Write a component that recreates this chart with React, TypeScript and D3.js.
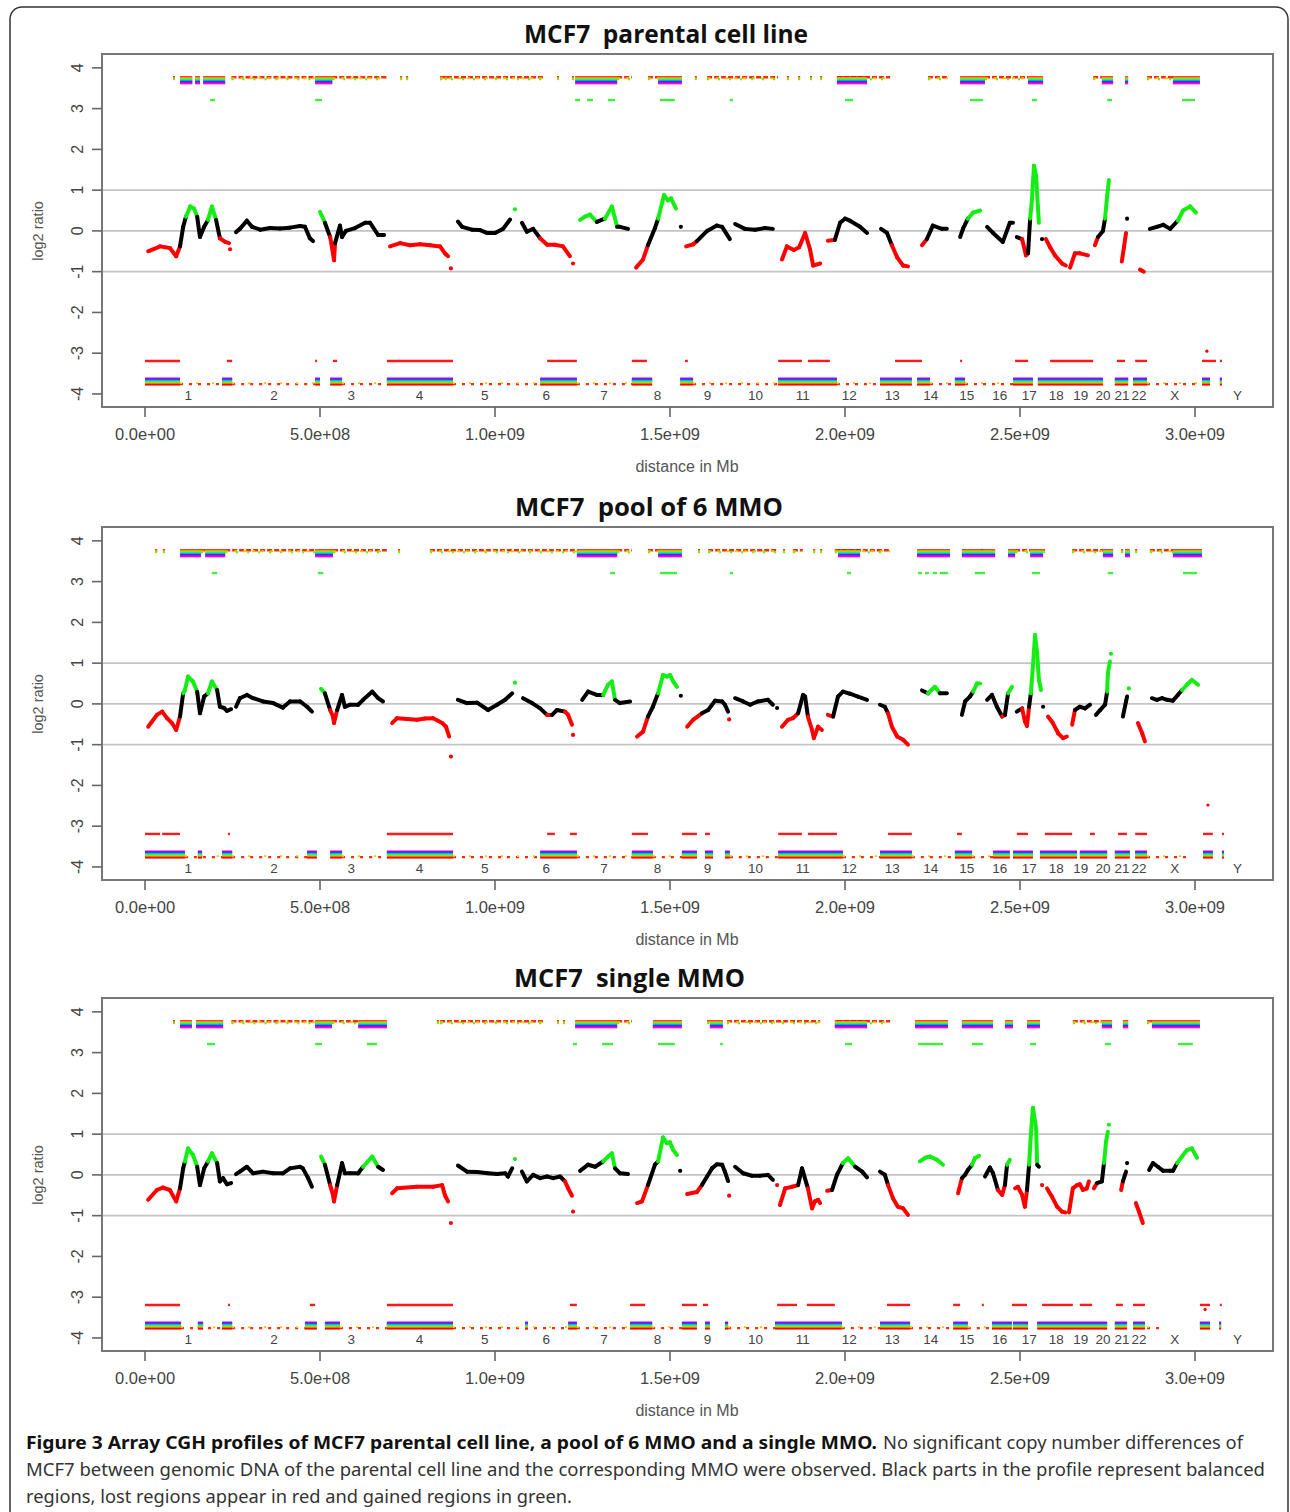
import * as d3 from "d3";

// chromosome layout (Mb)
const CHROMS = ["1","2","3","4","5","6","7","8","9","10","11","12","13","14","15","16","17","18","19","20","21","22","X","Y"];
const CHROM_LEN_MB = [247,243,199,191,181,171,159,146,140,135,134,132,114,106,100,89,79,76,64,62,47,50,155,58];
const X_TICKS = [0, 5e8, 1e9, 1.5e9, 2e9, 2.5e9, 3e9];
const Y_TICKS = [-4, -3, -2, -1, 0, 1, 2, 3, 4];
const GRID_Y = [-1, 0, 1];
const TITLES = ["MCF7  parental cell line", "MCF7  pool of 6 MMO", "MCF7  single MMO"];

type Pt = [number, number];
type Seg = [number, number];

// ---------- panel 1 : parental ----------
const P1_PROFILE: Pt[][] = [
  [[9,-0.5],[43,-0.38],[71,-0.42],[89,-0.62],[100,-0.38],[109,0.1],[117,0.35],[129,0.6],[140,0.55],[149,0.35],[157,-0.15],[169,0.1],[180,0.27],[191,0.6],[203,0.27],[214,-0.18],[229,-0.27],[240,-0.3]],
  [[243,-0.45]],
  [[260,-0.03],[271,0.05],[291,0.25],[306,0.1],[329,0.03],[357,0.07],[386,0.06],[414,0.08],[443,0.12],[457,0.1],[471,-0.18],[480,-0.25]],
  [[500,0.47],[514,0.2],[529,-0.15],[537,-0.55],[540,-0.72],[543,-0.3],[557,0.13],[563,-0.15],[574,0],[600,0.07],[629,0.2],[643,0.2],[666,-0.1],[683,-0.1]],
  [[700,-0.38],[729,-0.3],[757,-0.35],[786,-0.33],[814,-0.35],[843,-0.38],[857,-0.55],[866,-0.62]],
  [[874,-0.92]],
  [[894,0.23],[906,0.1],[934,0.03],[957,0.02],[977,-0.05],[1000,-0.05],[1023,0.05],[1043,0.28]],
  [[1057,0.53]],
  [[1077,0.2],[1091,-0.02],[1109,0.05],[1129,-0.18],[1149,-0.34],[1171,-0.34],[1194,-0.38],[1214,-0.62]],
  [[1223,-0.8]],
  [[1243,0.27],[1257,0.35],[1271,0.4],[1291,0.22],[1314,0.3],[1334,0.6],[1349,0.1],[1357,0.1],[1380,0.05]],
  [[1403,-0.9],[1423,-0.7],[1437,-0.35],[1457,0.07],[1466,0.3],[1483,0.88],[1494,0.75],[1503,0.8],[1517,0.55]],
  [[1531,0.1]],
  [[1546,-0.38],[1566,-0.33],[1577,-0.25],[1606,0],[1634,0.13],[1649,0.1],[1671,-0.2]],
  [[1686,0.17],[1714,0.05],[1743,0.03],[1771,0.07],[1794,0.05]],
  [[1820,-0.7],[1834,-0.38],[1854,-0.47],[1869,-0.4],[1886,-0.05],[1900,-0.45],[1909,-0.85],[1929,-0.8]],
  [[1951,-0.24],[1971,-0.22],[1986,0.2],[2000,0.3],[2014,0.25],[2043,0.1],[2063,-0.05]],
  [[2103,0.05],[2120,-0.05],[2134,-0.35],[2149,-0.65],[2166,-0.85],[2180,-0.87]],
  [[2220,-0.35],[2234,-0.2],[2251,0.13],[2277,0.05],[2291,0.05]],
  [[2329,-0.15],[2337,0.05],[2351,0.3],[2366,0.45],[2386,0.5]],
  [[2406,0.1],[2423,-0.05],[2451,-0.27],[2471,0.2],[2480,0.2]],
  [[2491,-0.15],[2506,-0.2],[2517,-0.6],[2523,-0.55],[2529,0.3],[2534,0.75],[2540,1.6],[2546,1.35],[2551,0.6],[2554,0.2]],
  [[2563,-0.2]],
  [[2574,-0.2],[2586,-0.4],[2600,-0.6],[2620,-0.8],[2631,-0.85]],
  [[2643,-0.9],[2657,-0.55],[2671,-0.55],[2694,-0.6]],
  [[2714,-0.35],[2723,-0.15],[2737,0],[2743,0.3],[2749,0.85],[2754,1.25]],
  [[2791,-0.75],[2797,-0.4],[2803,-0.05]],
  [[2806,0.3]],
  [[2843,-0.95],[2854,-1.0]],
  [[2871,0.05],[2891,0.1],[2909,0.15],[2929,0.05],[2951,0.25],[2966,0.5],[2986,0.6],[3003,0.45]],
];
const P1_TOP_FULL: Seg[] = [[100,135],[143,157],[166,229],[486,535],[1229,1349],[1466,1534],[1977,2063],[2329,2400],[2523,2566],[2734,2766],[2800,2809],[2937,3014]];
const P1_TOP_THIN: Seg[] = [[80,83],[247,486],[535,691],[729,732],[746,749],[857,860],[843,1137],[1177,1180],[1220,1223],[1349,1391],[1437,1466],[1571,1574],[1606,1809],[1834,1837],[1866,1869],[1900,1903],[1929,1932],[1977,2129],[2237,2294],[2400,2523],[2709,2734],[2863,2937]];
const P1_TOP_GREEN: Seg[] = [[186,200],[486,506],[1229,1243],[1263,1280],[1323,1343],[1471,1514],[1671,1680],[2000,2023],[2357,2394],[2534,2549],[2749,2763],[2963,3000]];
const P1_BOT_RED: Seg[] = [[0,100],[234,249],[486,489],[537,549],[691,880],[1149,1234],[1391,1434],[1543,1551],[1809,1877],[1894,1957],[2143,2220],[2329,2332],[2486,2523],[2586,2709],[2777,2800],[2829,2863],[3020,3060],[3071,3077]];
const P1_BOT_FULL: Seg[] = [[0,100],[220,249],[486,500],[529,563],[691,880],[1129,1234],[1391,1449],[1529,1566],[1809,1977],[2100,2191],[2206,2243],[2314,2343],[2480,2537],[2551,2737],[2771,2809],[2823,2863],[3020,3043],[3071,3077]];
const P1_BOT_THIN: Seg[] = [[100,220],[249,486],[563,691],[880,1129],[1234,1391],[1566,1809],[1977,2100],[2243,2314],[2343,2480],[2863,3010]];
const P1_OUTLIERS: Pt[] = [[3034,-2.95]];

// ---------- panel 2 : pool of 6 MMO ----------
const P2_PROFILE: Pt[][] = [
  [[9,-0.56],[34,-0.27],[49,-0.19],[63,-0.35],[77,-0.47],[89,-0.64],[100,-0.31],[109,0.26],[114,0.34],[123,0.67],[137,0.55],[149,0.3],[157,-0.23],[169,0.18],[180,0.26],[191,0.55],[206,0.34],[214,-0.07],[226,-0.1],[234,-0.17],[246,-0.13]],
  [[260,-0.07],[271,0.14],[291,0.22],[309,0.14],[337,0.06],[366,0.02],[394,-0.09],[414,0.06],[443,0.06],[463,-0.07],[477,-0.19]],
  [[503,0.37],[514,0.26],[529,-0.15],[537,-0.31],[540,-0.47],[549,-0.15],[563,0.22],[571,-0.07],[586,-0.02],[609,-0.02],[623,0.1],[649,0.3],[666,0.14],[680,0.06]],
  [[706,-0.47],[720,-0.35],[749,-0.37],[777,-0.39],[800,-0.36],[823,-0.35],[849,-0.47],[860,-0.56],[869,-0.8]],
  [[874,-1.29]],
  [[894,0.1],[920,0.02],[949,0.03],[980,-0.15],[1006,-0.02],[1029,0.1],[1049,0.26]],
  [[1057,0.52]],
  [[1080,0.14],[1106,0.02],[1129,-0.11],[1149,-0.27],[1163,-0.27],[1177,-0.15],[1200,-0.19],[1209,-0.27],[1220,-0.51]],
  [[1223,-0.76]],
  [[1249,0.1],[1266,0.3],[1291,0.22],[1309,0.22],[1323,0.47],[1334,0.55],[1343,0.1],[1357,0.02],[1386,0.06]],
  [[1406,-0.8],[1423,-0.68],[1437,-0.31],[1451,-0.07],[1466,0.26],[1480,0.71],[1491,0.67],[1500,0.71],[1509,0.55],[1520,0.42]],
  [[1531,0.2]],
  [[1549,-0.56],[1566,-0.39],[1591,-0.23],[1609,-0.15],[1629,0.08],[1649,0.06],[1657,-0.02],[1666,-0.19]],
  [[1669,-0.38]],
  [[1686,0.14],[1709,0.06],[1729,-0.02],[1751,0.06],[1780,0.1],[1794,-0.02]],
  [[1806,-0.1]],
  [[1820,-0.56],[1837,-0.39],[1851,-0.35],[1866,-0.23],[1880,0.22],[1886,0.18],[1894,-0.31],[1906,-0.64],[1911,-0.84],[1923,-0.56],[1934,-0.64]],
  [[1951,-0.27],[1966,-0.31],[1980,0.18],[1994,0.3],[2014,0.25],[2037,0.18],[2063,0.1]],
  [[2100,-0.02],[2114,-0.07],[2123,-0.23],[2134,-0.56],[2149,-0.8],[2166,-0.88],[2180,-1.0]],
  [[2220,0.33],[2237,0.26],[2257,0.42],[2271,0.26],[2291,0.26]],
  [[2334,-0.27],[2343,0.06],[2357,0.18],[2366,0.3],[2377,0.5],[2386,0.5]],
  [[2406,0.1],[2420,0.22],[2434,-0.07],[2449,-0.31],[2457,-0.27],[2466,0.26],[2477,0.42]],
  [[2491,-0.19],[2506,-0.11],[2514,-0.43],[2520,-0.54],[2526,-0.07],[2531,0.26],[2537,0.92],[2543,1.69],[2549,1.24],[2554,0.59],[2560,0.34]],
  [[2566,-0.07]],
  [[2580,-0.31],[2594,-0.47],[2609,-0.72],[2623,-0.84],[2634,-0.8]],
  [[2649,-0.51],[2657,-0.15],[2671,-0.07],[2686,-0.11],[2700,-0.02]],
  [[2717,-0.27],[2729,-0.15],[2743,-0.02],[2749,0.3],[2751,0.75],[2757,1.04]],
  [[2760,1.23]],
  [[2794,-0.31],[2803,0.06],[2806,0.18]],
  [[2811,0.38]],
  [[2837,-0.47],[2849,-0.72],[2857,-0.92]],
  [[2877,0.14],[2891,0.1],[2906,0.14],[2920,0.1],[2937,0.08],[2951,0.22],[2963,0.34],[2977,0.47],[2991,0.59],[3009,0.47]],
];
const P2_TOP_FULL: Seg[] = [[100,160],[172,229],[486,537],[1234,1349],[1466,1534],[1980,2043],[2206,2300],[2334,2429],[2466,2486],[2529,2566],[2737,2766],[2800,2814],[2937,3020]];
const P2_TOP_THIN: Seg[] = [[29,35],[51,57],[160,172],[229,486],[537,691],[723,726],[814,1234],[1349,1391],[1437,1466],[1580,1583],[1609,1809],[1823,1826],[1851,1880],[1909,1912],[1929,1932],[1971,2129],[2389,2391],[2486,2529],[2566,2569],[2649,2737],[2789,2791],[2829,2832],[2871,2937]];
const P2_TOP_GREEN: Seg[] = [[191,206],[494,509],[1329,1343],[1471,1520],[1671,1680],[2006,2017],[2209,2220],[2229,2240],[2251,2263],[2271,2294],[2371,2400],[2534,2557],[2751,2766],[2966,3006]];
const P2_BOT_RED: Seg[] = [[0,43],[49,100],[237,240],[691,880],[1149,1171],[1214,1234],[1391,1437],[1534,1577],[1600,1614],[1809,1877],[1894,1977],[2123,2191],[2320,2334],[2491,2523],[2571,2649],[2700,2714],[2780,2806],[2829,2863],[3023,3051],[3077,3080]];
const P2_BOT_FULL: Seg[] = [[0,114],[151,163],[220,249],[463,491],[529,563],[691,880],[1129,1234],[1391,1451],[1534,1577],[1600,1623],[1657,1671],[1809,1994],[2100,2191],[2314,2363],[2423,2471],[2480,2537],[2557,2663],[2671,2749],[2771,2814],[2829,2863],[3023,3051],[3077,3080]];
const P2_BOT_THIN: Seg[] = [[114,220],[249,463],[563,691],[880,1129],[1234,1391],[1451,1534],[1671,1809],[1994,2100],[2191,2314],[2363,2423],[2863,2990]];
const P2_OUTLIERS: Pt[] = [[3037,-2.48]];

// ---------- panel 3 : single MMO ----------
const P3_PROFILE: Pt[][] = [
  [[9,-0.61],[34,-0.37],[51,-0.31],[71,-0.37],[89,-0.65],[100,-0.33],[109,0.16],[114,0.33],[123,0.65],[137,0.49],[149,0.2],[157,-0.25],[169,0.16],[180,0.33],[191,0.53],[206,0.29],[214,-0.16],[223,-0.08],[234,-0.23],[246,-0.2]],
  [[260,0.02],[271,0.08],[291,0.2],[309,0.04],[337,0.08],[366,0.04],[394,0.04],[414,0.16],[443,0.2],[451,0.16],[466,-0.08],[477,-0.29]],
  [[503,0.45],[514,0.25],[529,-0.25],[537,-0.49],[540,-0.65],[549,-0.25],[563,0.29],[571,0.04],[586,0.04],[609,0.04],[623,0.2],[649,0.45],[666,0.2],[680,0.12]],
  [[706,-0.45],[720,-0.33],[777,-0.29],[823,-0.29],[849,-0.25],[857,-0.5],[866,-0.65]],
  [[874,-1.18]],
  [[894,0.23],[920,0.08],[949,0.07],[980,0.04],[1006,0.02],[1029,0.04],[1037,-0.04],[1049,0.16]],
  [[1057,0.39]],
  [[1077,0.08],[1091,-0.16],[1109,0],[1129,-0.08],[1149,-0.04],[1166,-0.08],[1186,-0.04],[1200,-0.16],[1209,-0.33],[1220,-0.51]],
  [[1223,-0.9]],
  [[1243,0.1],[1266,0.25],[1286,0.2],[1309,0.33],[1323,0.45],[1334,0.53],[1343,0.16],[1357,0.04],[1380,0.02]],
  [[1406,-0.69],[1420,-0.65],[1437,-0.25],[1457,0.25],[1466,0.33],[1480,0.92],[1491,0.78],[1500,0.8],[1509,0.61],[1520,0.49]],
  [[1529,0.1]],
  [[1549,-0.47],[1577,-0.42],[1591,-0.25],[1606,-0.04],[1620,0.16],[1634,0.26],[1649,0.25],[1657,0.08],[1666,-0.15]],
  [[1669,-0.51]],
  [[1686,0.2],[1709,0.04],[1734,-0.02],[1757,-0.02],[1780,0],[1794,-0.12]],
  [[1806,-0.25]],
  [[1814,-0.74],[1829,-0.33],[1849,-0.29],[1866,-0.25],[1877,0.16],[1880,0.08],[1894,-0.33],[1906,-0.82],[1914,-0.65],[1923,-0.61],[1929,-0.69]],
  [[1949,-0.39],[1963,-0.37],[1977,0],[1994,0.29],[2009,0.41],[2029,0.2],[2049,0.08],[2063,-0.06]],
  [[2100,0.08],[2114,0],[2123,-0.25],[2137,-0.57],[2151,-0.78],[2166,-0.82],[2180,-0.98]],
  [[2214,0.33],[2229,0.42],[2243,0.45],[2263,0.37],[2280,0.25]],
  [[2323,-0.45],[2334,-0.08],[2343,0],[2351,0.12],[2363,0.25],[2371,0.41],[2383,0.47]],
  [[2400,-0.04],[2414,0.18],[2423,0.04],[2437,-0.37],[2449,-0.49],[2457,-0.25],[2463,0.25],[2471,0.37]],
  [[2486,-0.33],[2494,-0.29],[2506,-0.49],[2514,-0.78],[2520,-0.37],[2526,0.25],[2531,0.98],[2537,1.65],[2546,1.14],[2549,0.25],[2554,0.2]],
  [[2563,-0.25]],
  [[2577,-0.33],[2591,-0.53],[2606,-0.78],[2620,-0.9],[2629,-0.92]],
  [[2640,-0.92],[2651,-0.33],[2663,-0.25],[2671,-0.23],[2680,-0.37],[2691,-0.33],[2697,-0.16]],
  [[2711,-0.33],[2720,-0.2],[2734,-0.16],[2740,0.29],[2746,0.82],[2751,1.06]],
  [[2754,1.23]],
  [[2789,-0.37],[2794,-0.16],[2803,0.08]],
  [[2806,0.29]],
  [[2831,-0.69],[2840,-0.9],[2851,-1.18]],
  [[2869,0.12],[2880,0.29],[2894,0.2],[2909,0.1],[2929,0.1],[2937,0.1],[2949,0.29],[2963,0.45],[2977,0.61],[2991,0.65],[3006,0.42]],
];
const P3_TOP_FULL: Seg[] = [[100,134],[146,223],[486,534],[609,691],[1229,1349],[1451,1534],[1614,1651],[1971,2063],[2200,2294],[2334,2423],[2457,2480],[2520,2557],[2734,2763],[2794,2809],[2877,3014]];
const P3_TOP_THIN: Seg[] = [[80,83],[247,486],[534,609],[834,837],[843,1137],[1177,1180],[1194,1197],[1349,1391],[1606,1614],[1663,1929],[1977,2129],[2651,2734],[2863,2877]];
const P3_TOP_GREEN: Seg[] = [[177,200],[486,506],[634,663],[1223,1234],[1306,1337],[1466,1514],[1643,1651],[2000,2020],[2209,2280],[2363,2394],[2529,2546],[2743,2760],[2951,2994]];
const P3_BOT_RED: Seg[] = [[0,100],[237,240],[471,486],[691,880],[1214,1234],[1386,1429],[1534,1577],[1594,1609],[1806,1863],[1891,1971],[2120,2186],[2309,2329],[2391,2394],[2477,2520],[2563,2651],[2671,2706],[2774,2794],[2823,2857],[3014,3043],[3071,3074]];
const P3_BOT_FULL: Seg[] = [[0,103],[151,166],[220,249],[457,491],[514,557],[691,880],[1086,1094],[1209,1234],[1386,1449],[1534,1577],[1600,1614],[1657,1666],[1800,1991],[2100,2186],[2309,2351],[2420,2477],[2480,2523],[2549,2749],[2771,2806],[2823,2857],[3014,3043],[3069,3074]];
const P3_BOT_THIN: Seg[] = [[103,220],[249,457],[557,691],[880,1209],[1234,1386],[1449,1534],[1666,1800],[1991,2109],[2186,2309],[2351,2420],[2863,2900]];
const P3_OUTLIERS: Pt[] = [[3029,-3.3]];

const PANELS = [
  { title: TITLES[0], profile: P1_PROFILE, topFull: P1_TOP_FULL, topThin: P1_TOP_THIN, topGreen: P1_TOP_GREEN, botRed: P1_BOT_RED, botFull: P1_BOT_FULL, botThin: P1_BOT_THIN, outliers: P1_OUTLIERS },
  { title: TITLES[1], profile: P2_PROFILE, topFull: P2_TOP_FULL, topThin: P2_TOP_THIN, topGreen: P2_TOP_GREEN, botRed: P2_BOT_RED, botFull: P2_BOT_FULL, botThin: P2_BOT_THIN, outliers: P2_OUTLIERS },
  { title: TITLES[2], profile: P3_PROFILE, topFull: P3_TOP_FULL, topThin: P3_TOP_THIN, topGreen: P3_TOP_GREEN, botRed: P3_BOT_RED, botFull: P3_BOT_FULL, botThin: P3_BOT_THIN, outliers: P3_OUTLIERS },
];

// layout
const W = 1290;
const H = 1512;
const PLOT_LEFT = 102;
const PLOT_RIGHT = 1273;
const PANEL_TOPS = [54, 527, 998];
const PLOT_H = 353;
const TITLE_X = [524, 515, 514];
const TITLE_LEN = [284, 268, 231];

const RED = "#ff0000";
const GREEN = "#14ee14";
const TOP_ROWS = [3.77, 3.745, 3.72, 3.695, 3.67, 3.645, 3.62];
const TOP_COLORS = ["#ff0000", "#ffc000", "#49ff00", "#00f0b0", "#0092ff", "#4900ff", "#ff00db"];
const BOT_ROWS = [-3.62, -3.645, -3.67, -3.695, -3.72, -3.745, -3.77];
const BOT_COLORS = ["#ff00db", "#4900ff", "#0092ff", "#00f0b0", "#49ff00", "#ffc000", "#ff0000"];

const AXIS_FONT = "'Liberation Sans', Arial, Helvetica, sans-serif";
const CAP_FONT = "'Noto Sans', 'Open Sans', sans-serif";
const CAP_SQUEEZE = 0.86;

const fmtSci = (v: number) => {
  const [m, e] = v.toExponential(1).split("e");
  return `${m}e${e[0]}${e.slice(1).padStart(2, "0")}`;
};

const stateColor = (v: number) => (v > 0.3 ? GREEN : v < -0.22 ? RED : "#000");

function Panel({ idx }: { idx: number }) {
  const p = PANELS[idx];
  const top = PANEL_TOPS[idx];
  const bottom = top + PLOT_H;
  const x = d3.scaleLinear().domain([-1.229e8, 3.2229e9]).range([PLOT_LEFT, PLOT_RIGHT]);
  const y = d3.scaleLinear().domain([-4.32, 4.34]).range([bottom, top]);
  const mb = (v: number) => x(v * 1e6);

  const starts = d3.cumsum([0, ...CHROM_LEN_MB.slice(0, -1)]);
  const ends = d3.cumsum(CHROM_LEN_MB);
  const xMaxMb = x.domain()[1] / 1e6;

  const band = (segs: Seg[], rows: number[], colors: string[], key: string) =>
    segs.map(([s, e], i) =>
      rows.map((r, j) => (
        <rect key={`${key}${i}-${j}`} x={mb(s)} y={y(r) - 1} width={Math.max(2, mb(e) - mb(s))} height={2} fill={colors[j]} />
      ))
    );

  const hline = (segs: Seg[], val: number, color: string, dash: string | undefined, key: string, w = 2.4) =>
    segs.map(([s, e], i) => (
      <line key={`${key}${i}`} x1={mb(s)} x2={Math.max(mb(e), mb(s) + 2)} y1={y(val)} y2={y(val)} stroke={color} strokeWidth={w} strokeDasharray={dash} />
    ));

  return (
    <g>
      <text x={TITLE_X[idx]} y={top - 11} fontFamily="'Open Sans', 'Noto Sans', sans-serif" fontWeight={700} fontSize={25}
        textLength={TITLE_LEN[idx]} lengthAdjust="spacingAndGlyphs" style={{ whiteSpace: "pre" }} fill="#111">
        {p.title}
      </text>

      {/* grid */}
      {GRID_Y.map((g) => (
        <line key={`g${g}`} x1={PLOT_LEFT} x2={PLOT_RIGHT} y1={y(g)} y2={y(g)} stroke="#c4c4c4" strokeWidth={1.6} />
      ))}
      {ends.slice(0, -1).map((e, i) => (
        <line key={`v${i}`} x1={mb(e)} x2={mb(e)} y1={top} y2={bottom} stroke="#a8a8a8" strokeWidth={1.6} />
      ))}

      {/* significance tracks */}
      {hline(p.topThin, 3.77, "#ff2a00", "5 2", "tt")}
      {hline(p.topThin, 3.745, "#ffc000", "3 6", "ty", 1.8)}
      {hline(p.topThin, 3.72, "#49ff00", "2 9", "tg", 1.8)}
      {band(p.topFull, TOP_ROWS, TOP_COLORS, "tf")}
      {hline(p.topGreen, 3.21, "#3cf03c", undefined, "tgr", 2.4)}
      {hline(p.botRed, -3.19, "#ff1a1a", undefined, "br", 2.4)}
      {hline(p.botThin, -3.76, "#ff2a00", "3 6", "bt")}
      {hline(p.botThin, -3.735, "#ffc000", "2 14", "by", 1.8)}
      {band(p.botFull, BOT_ROWS, BOT_COLORS, "bf")}
      {p.outliers.map(([m, v], i) => (
        <circle key={`o${i}`} cx={mb(m)} cy={y(v)} r={1.6} fill={RED} />
      ))}

      {/* profile */}
      {p.profile.map((seg, i) =>
        seg.length === 1 ? (
          <circle key={`d${i}`} cx={mb(seg[0][0])} cy={y(seg[0][1])} r={2.1} fill={stateColor(seg[0][1])} />
        ) : (
          seg.slice(1).map((pt, j) => {
            const a = seg[j];
            return (
              <line key={`p${i}-${j}`} x1={mb(a[0])} y1={y(a[1])} x2={mb(pt[0])} y2={y(pt[1])}
                stroke={stateColor((a[1] + pt[1]) / 2)} strokeWidth={4} strokeLinecap="round" />
            );
          })
        )
      )}

      {/* chromosome labels */}
      {CHROMS.map((c, i) => {
        const cx = i === CHROMS.length - 1 ? mb((starts[i] + xMaxMb) / 2) : mb(starts[i] + CHROM_LEN_MB[i] / 2);
        return (
          <text key={`c${c}`} x={cx} y={bottom - 7} textAnchor="middle" fontFamily={AXIS_FONT} fontSize={13.5} fill="#444">
            {c}
          </text>
        );
      })}

      {/* frame */}
      <rect x={PLOT_LEFT} y={top} width={PLOT_RIGHT - PLOT_LEFT} height={PLOT_H} fill="none" stroke="#777" strokeWidth={2} />

      {/* y axis */}
      {Y_TICKS.map((t) => (
        <g key={`yt${t}`}>
          <line x1={PLOT_LEFT - 10} x2={PLOT_LEFT} y1={y(t)} y2={y(t)} stroke="#666" strokeWidth={1.6} />
          <text transform={`translate(83,${y(t)}) rotate(-90)`} textAnchor="middle" fontFamily={AXIS_FONT} fontSize={16} fill="#444">
            {t}
          </text>
        </g>
      ))}
      <text transform={`translate(43,${y(0)}) rotate(-90)`} textAnchor="middle" fontFamily={AXIS_FONT} fontSize={14.5} fill="#555">
        log2 ratio
      </text>

      {/* x axis */}
      {X_TICKS.map((t) => (
        <g key={`xt${t}`}>
          <line x1={x(t)} x2={x(t)} y1={bottom} y2={bottom + 10} stroke="#666" strokeWidth={1.6} />
          <text x={x(t)} y={bottom + 33} textAnchor="middle" fontFamily={AXIS_FONT} fontSize={16.5} fill="#444">
            {fmtSci(t)}
          </text>
        </g>
      ))}
      <text x={687} y={bottom + 65} textAnchor="middle" fontFamily={AXIS_FONT} fontSize={16} fill="#555">
        distance in Mb
      </text>
    </g>
  );
}

function CaptionLine({ x, y, len, bold, children }: { x: number; y: number; len: number; bold?: boolean; children: string }) {
  return (
    <g transform={`translate(${x},${y}) scale(${CAP_SQUEEZE},1)`}>
      <text x={0} y={0} fontFamily={CAP_FONT} fontSize={18.5} fontWeight={bold ? 700 : 400} fill={bold ? "#111" : "#333"}
        textLength={len / CAP_SQUEEZE} lengthAdjust="spacingAndGlyphs">
        {children}
      </text>
    </g>
  );
}

export default function App() {
  return (
    <svg width={W} height={H} style={{ position: "absolute", left: 0, top: 0, background: "#fff" }}>
      <rect x={0} y={0} width={W} height={H} fill="#fff" />
      <rect x={10} y={7} width={1278} height={1560} rx={12} fill="none" stroke="#333" strokeWidth={1.5} />
      {PANELS.map((_, i) => (
        <Panel key={i} idx={i} />
      ))}
      <CaptionLine x={26} y={1449} len={851} bold>
        Figure 3 Array CGH profiles of MCF7 parental cell line, a pool of 6 MMO and a single MMO.
      </CaptionLine>
      <CaptionLine x={883} y={1449} len={360}>
        No significant copy number differences of
      </CaptionLine>
      <CaptionLine x={26} y={1476} len={1239}>
        MCF7 between genomic DNA of the parental cell line and the corresponding MMO were observed. Black parts in the profile represent balanced
      </CaptionLine>
      <CaptionLine x={26} y={1503} len={546}>
        regions, lost regions appear in red and gained regions in green.
      </CaptionLine>
    </svg>
  );
}
